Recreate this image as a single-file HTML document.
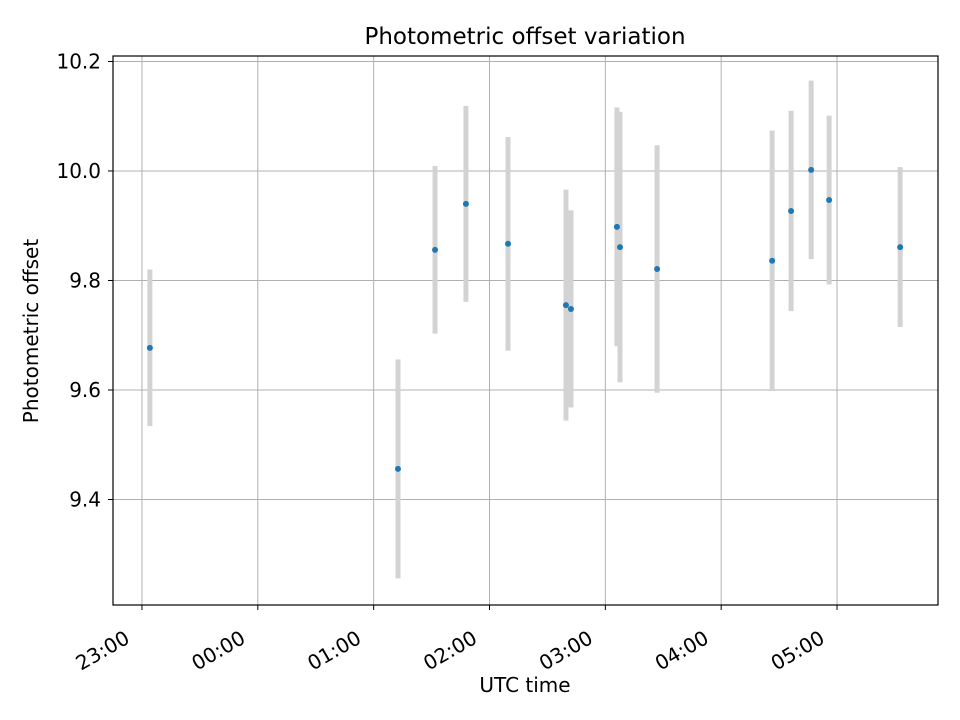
<!DOCTYPE html>
<html><head><meta charset="utf-8"><style>
html,body{margin:0;padding:0;background:#fff;}
svg{display:block;font-family:"DejaVu Sans","Liberation Sans",sans-serif;}
</style></head><body>
<svg id="chart" width="960" height="720">
<rect width="960" height="720" fill="#fff"/>
<text x="525" y="44" font-size="23" text-anchor="middle">Photometric offset variation</text>
<g id="grid"></g>
<g id="errs"></g>
<g id="pts"></g>
<g id="axes"></g>
<rect x="113" y="56" width="825" height="549" fill="none" stroke="#000" stroke-width="1.2"/>
<text x="525" y="692" font-size="20" text-anchor="middle">UTC time</text>
<text transform="translate(38,331) rotate(-90)" font-size="20" text-anchor="middle">Photometric offset</text>
</svg>
<script>
// minutes after 23:00
const times = [4.1,132.6,151.8,167.8,189.6,219.6,222.2,246,247.6,266.8,326.4,336.2,346.6,355.9,392.7];
const values = [9.677,9.456,9.856,9.940,9.867,9.755,9.748,9.898,9.861,9.821,9.836,9.927,10.002,9.947,9.861];
const errors = [0.143,0.2,0.153,0.179,0.195,0.211,0.18,0.218,0.247,0.226,0.238,0.183,0.163,0.154,0.146];
const yTicks = [9.4,9.6,9.8,10.0,10.2];
const yTickLabels = ["9.4","9.6","9.8","10.0","10.2"];
const xTicks = [0,60,120,180,240,300,360];
const xTickLabels = ["23:00","00:00","01:00","02:00","03:00","04:00","05:00"];

const X0=113,X1=938,Y0=56,Y1=605;
const xMin=-15,xMax=412.3,yMin=9.2073,yMax=10.210;
const xs=m=>X0+(m-xMin)/(xMax-xMin)*(X1-X0);
const ys=v=>Y1-(v-yMin)/(yMax-yMin)*(Y1-Y0);
const NS="http://www.w3.org/2000/svg";
function mk(tag,attrs,parent){const e=document.createElementNS(NS,tag);for(const k in attrs)e.setAttribute(k,attrs[k]);document.getElementById(parent).appendChild(e);return e;}

yTicks.forEach((v,i)=>{
  const y=ys(v);
  const g=mk('line',{x1:X0,x2:X1,y1:y,y2:y,stroke:'#b0b0b0','stroke-width':1},'grid');
  
  
  const t=mk('line',{x1:X0-5,x2:X0,y1:y,y2:y,stroke:'#000','stroke-width':1},'axes');
  
  
  const l=mk('text',{x:X0-12,y:y+7,'font-size':20,'text-anchor':'end'},'axes');
  l.textContent=yTickLabels[i];
  
  
});
xTicks.forEach((m,i)=>{
  const x=xs(m);
  const g=mk('line',{x1:x,x2:x,y1:Y0,y2:Y1,stroke:'#b0b0b0','stroke-width':1},'grid');
  
  
  const t=mk('line',{x1:x,x2:x,y1:Y1,y2:Y1+5,stroke:'#000','stroke-width':1},'axes');
  
  
  const l=mk('text',{transform:`translate(${x-11},${Y1+37}) rotate(-30)`,'font-size':20,'text-anchor':'end'},'axes');
  l.textContent=xTickLabels[i];
  
  
});
times.forEach((m,i)=>{
  const x=xs(m);
  const e=mk('line',{x1:x,x2:x,y1:ys(values[i]+errors[i]),y2:ys(values[i]-errors[i]),stroke:'#d3d3d3','stroke-width':5},'errs');
  
  
  const p=mk('circle',{cx:x,cy:ys(values[i]),r:3,fill:'#1f77b4'},'pts');
  
  
});
</script>
</body></html>
